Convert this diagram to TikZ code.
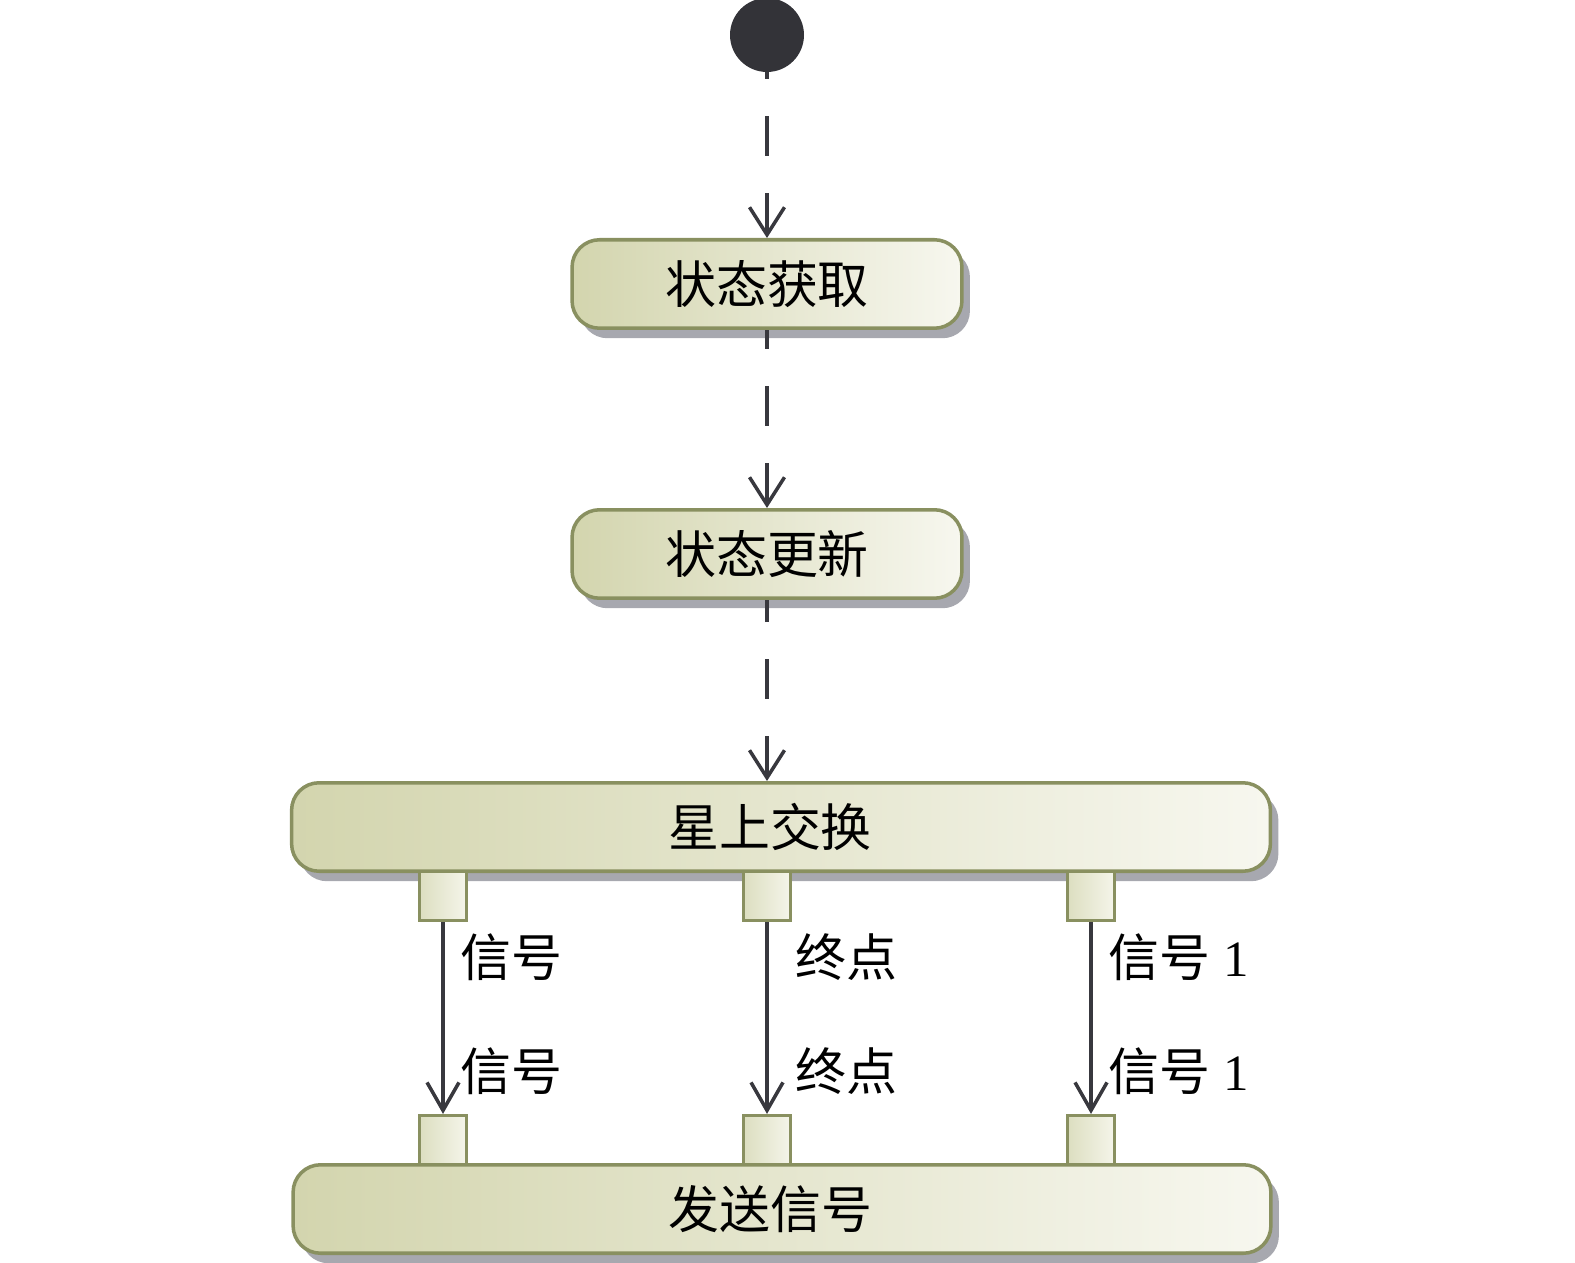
\documentclass[tikz,border=0pt]{standalone}
\usepackage{fontspec}
\setmainfont{Liberation Serif}
\newfontfamily\cjk{Noto Sans CJK SC}
\usepackage{tikz}
\usetikzlibrary{shapes,shadows,arrows.meta,positioning}
\definecolor{actL}{HTML}{D3D5AE}
\definecolor{actR}{HTML}{F7F7EF}
\definecolor{pinL}{HTML}{DCDEC0}
\definecolor{pinR}{HTML}{F5F5EA}
\definecolor{actBorder}{HTML}{899060}
\definecolor{shadowGray}{HTML}{A7A8AF}
\definecolor{startDark}{HTML}{333338}
\definecolor{lineDark}{HTML}{38383E}
\def\bigfont{\fontsize{29}{34}\selectfont}

\begin{document}
\begin{tikzpicture}[x=0.02cm, y=-0.02cm,
    act/.style={draw=actBorder, line width=2pt, rounded corners=0.55cm,
        left color=actL, right color=actR, inner sep=0pt,
        drop shadow={shadow xshift=0.16cm, shadow yshift=-0.2cm, fill=shadowGray, opacity=1},
        minimum height=1.77cm, font=\bigfont\cjk},
    pin/.style={draw=actBorder, line width=1.8pt, left color=pinL, right color=pinR,
        minimum width=0.95cm, minimum height=0.98cm, inner sep=0pt},
    flow/.style={draw=lineDark, line width=2pt, dash pattern=on 0.8cm off 0.74cm,
        {Straight Barb[length=0.55cm,width=0.7cm]}-},
    sig/.style={draw=lineDark, line width=2pt, -{Straight Barb[length=0.56cm,width=0.64cm]}},
    lab/.style={anchor=west, inner sep=0pt, font=\bigfont}]
    \useasboundingbox (0,0) rectangle (1575,1263);

    \node[circle, fill=startDark, minimum size=1.48cm, inner sep=0pt] (start) at (767,35) {};
    \node[act, minimum width=7.8cm] (get) at (767,284) {状态获取};
    \node[act, minimum width=7.8cm] (upd) at (767,554) {状态更新};
    \node[act, minimum width=19.58cm] (sw) at (781,827) {星上交换\hspace*{0.44cm}};
    \node[act, minimum width=19.56cm] (send) at (782,1209) {发送信号\hspace*{0.46cm}};

    \draw[flow] (get) -- (start);
    \draw[flow] (upd) -- (get);
    \draw[flow] (sw.north -| upd) -- (upd);

    % pins
    \foreach \n/\x in {a/443, b/767, c/1091} {
        \node[pin] (out\n) at (\x,896) {};
        \node[pin] (in\n) at (\x,1140) {};
        \draw[sig] (out\n) -- (in\n);
    }

    \node[lab] at (460,957) {\cjk 信号};
    \node[lab] at (460,1071) {\cjk 信号};
    \node[lab] at (795,957) {\cjk 终点};
    \node[lab] at (795,1071) {\cjk 终点};
    \node[lab] at (1108,957) {{\cjk 信号} 1};
    \node[lab] at (1108,1071) {{\cjk 信号} 1};
\end{tikzpicture}
\end{document}
